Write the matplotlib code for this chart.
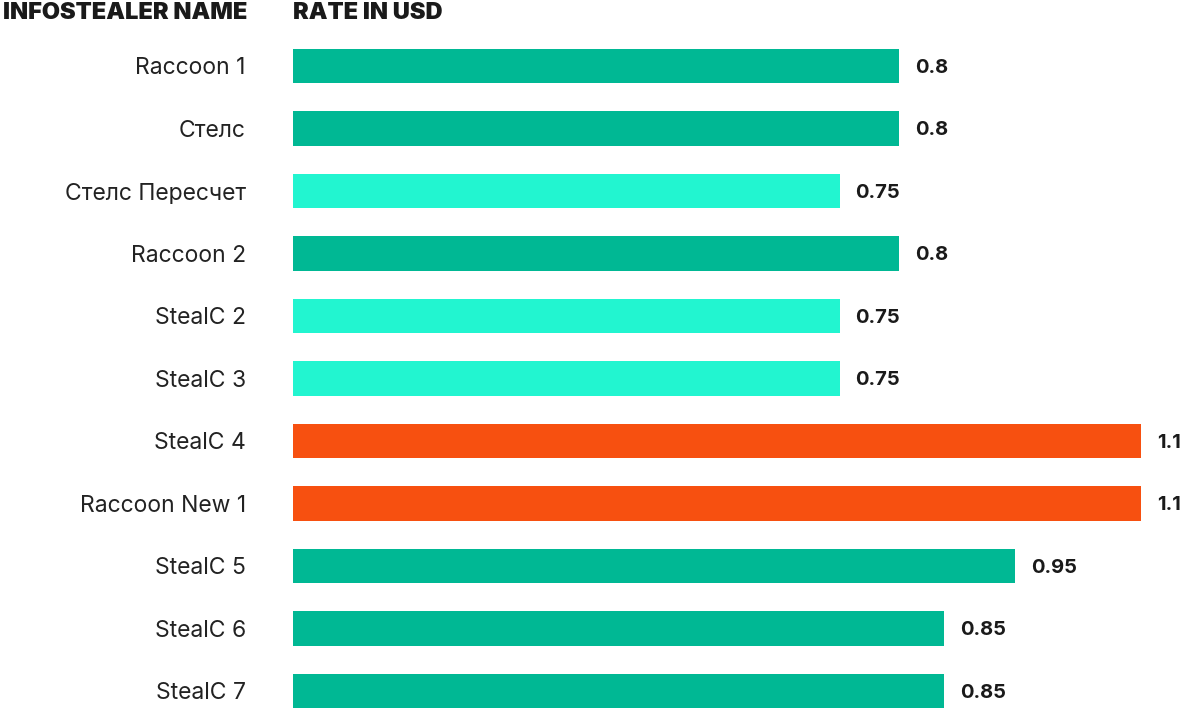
import matplotlib
matplotlib.use("Agg")
import matplotlib.pyplot as plt

names = ["Raccoon 1", "Стелс", "Стелс Пересчет", "Raccoon 2", "StealC 2", "StealC 3",
         "StealC 4", "Raccoon New 1", "StealC 5", "StealC 6", "StealC 7"]
# bar lengths as measured on the picture, labels as printed
rates = [0.786, 0.786, 0.709, 0.786, 0.709, 0.709, 1.1, 1.1, 0.937, 0.845, 0.845]
rate_labels = ["0.8", "0.8", "0.75", "0.8", "0.75", "0.75", "1.1", "1.1", "0.95", "0.85", "0.85"]
groups = ["mid", "mid", "low", "mid", "low", "low", "high", "high", "mid", "mid", "mid"]

colors = {"mid": "#00b894", "low": "#22f5d0", "high": "#f75010"}

plt.rcParams['font.family'] = ['Inter', 'DejaVu Sans']

W, H = 1188, 709
fig = plt.figure(figsize=(W / 100, H / 100), dpi=100)
row = 62.5
top = 66 - row / 2
ax = fig.add_axes([293 / W, 0, (1141 - 293) / W, (H - top) / H])

ypos = list(range(len(names)))
ax.barh(ypos, rates, height=0.55, color=[colors[g] for g in groups])
ax.set_xlim(0, max(rates))
ax.set_ylim((H - 66) / row, -0.5)

for y, v, lab in zip(ypos, rates, rate_labels):
    ax.annotate(lab, (v, y), xytext=(11.5, -1.2), textcoords='offset points',
                va='center', ha='left', fontsize=14.5, fontweight='bold',
                color='#1a1a1a', annotation_clip=False)

ax.set_yticks(ypos)
ax.set_yticklabels(names, fontsize=16.5, color='#222222')
ax.tick_params(axis='y', length=0, pad=34)
ax.set_xticks([])
for s in ax.spines.values():
    s.set_visible(False)

fig.text(247 / W, 1 - 13 / H, "INFOSTEALER NAME", ha='right', va='center',
         fontsize=17, fontweight='black', color='#1a1a1a')
fig.text(293 / W, 1 - 13 / H, "RATE IN USD", ha='left', va='center',
         fontsize=17, fontweight='black', color='#1a1a1a')

fig.savefig("out.png", dpi=100)
